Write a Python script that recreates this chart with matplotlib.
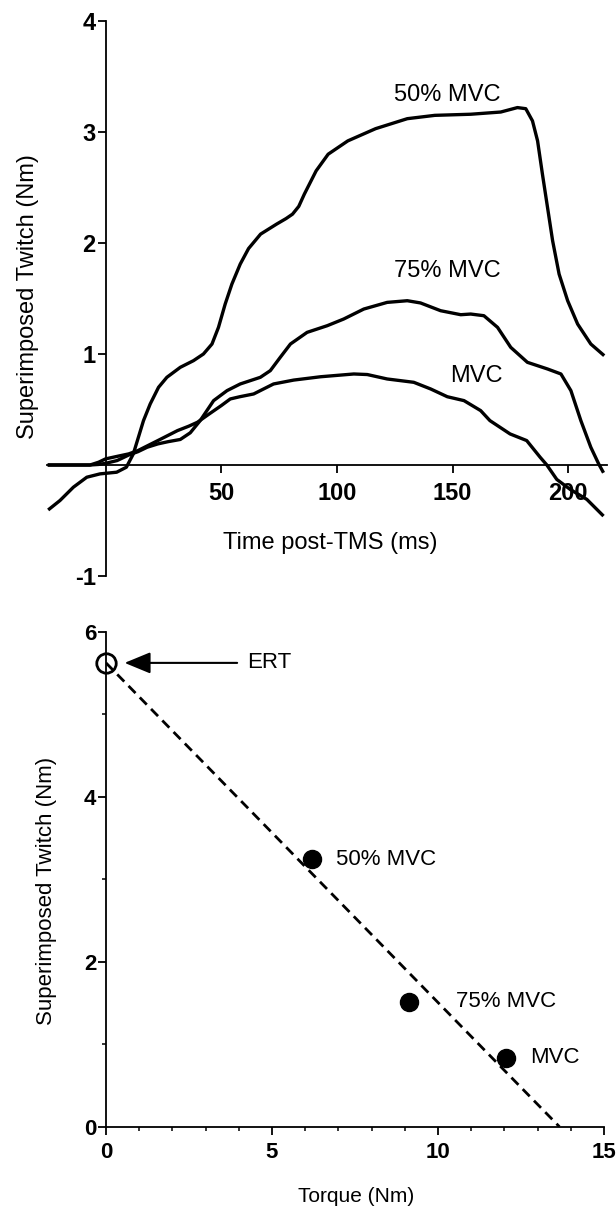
import numpy as np
import matplotlib.pyplot as plt
from matplotlib.ticker import MultipleLocator

plt.rcParams['font.family'] = ['Liberation Sans', 'DejaVu Sans']
plt.rcParams['axes.unicode_minus'] = False

# traccia superiore: twitch sovrapposto vs tempo dopo TMS
t_50 = [-24.8, -19.7, -13.9, -8.1, -2.4, 4.8, 9, 12.0, 14.2, 16.4, 19.3, 22.9, 26.5, 32.3,
        38.0, 42.3, 46.0, 48.8, 51.7, 54.6, 58.2, 61.8, 67, 73.9, 78, 80.8, 83.5, 85.9, 91,
        96.2, 104.7, 116.7, 130.4, 142.3, 157.8, 170.8, 178.0, 181.6, 184.5, 186.7, 188.8,
        191.0, 193.2, 196.0, 199.7, 204.0, 209.7, 215.5]
y_50 = [-0.405, -0.32, -0.2, -0.11, -0.08, -0.065, -0.02, 0.10, 0.25, 0.40, 0.55, 0.70, 0.79,
        0.88, 0.94, 1.0, 1.09, 1.24, 1.45, 1.63, 1.81, 1.95, 2.08, 2.17, 2.22, 2.26, 2.33, 2.44,
        2.65, 2.80, 2.92, 3.03, 3.12, 3.15, 3.16, 3.18, 3.22, 3.21, 3.10, 2.92, 2.62, 2.32,
        2.02, 1.72, 1.48, 1.27, 1.09, 0.985]

t_75 = [-25, -6.7, -3, 0, 5, 10, 14, 18, 22.6, 27, 32.3, 36.6, 40.9, 46.7, 52.5, 58.2, 66.9,
        71.2, 75.5, 79.9, 87.1, 95.8, 102.9, 111.6, 121.7, 130.4, 136.1, 144.8, 153.5, 157.8,
        163.5, 169.4, 175.1, 182.3, 191.0, 196.8, 201.1, 205.4, 209.7, 213.1, 215.2]
y_75 = [0, 0, 0.005, 0.015, 0.04, 0.09, 0.12, 0.16, 0.19, 0.21, 0.23, 0.29, 0.40, 0.58, 0.67,
        0.73, 0.79, 0.85, 0.97, 1.09, 1.195, 1.255, 1.315, 1.405, 1.465, 1.48, 1.46, 1.39,
        1.354, 1.36, 1.345, 1.24, 1.06, 0.925, 0.865, 0.82, 0.67, 0.40, 0.16, 0.01, -0.07]

t_mvc = [-25, -6.7, -3, 0, 5.5, 10, 14, 22.6, 31.1, 36, 39.7, 44.8, 50, 53.9, 58, 64.0, 72.6,
         81.3, 92.9, 107.3, 113.1, 121.7, 133.2, 140.5, 147.7, 154.9, 162.1, 166.1, 174.8,
         182, 187.8, 190.7, 195.0, 200.8, 208.0, 215.2]
y_mvc = [0, 0, 0.025, 0.055, 0.08, 0.1, 0.13, 0.22, 0.31, 0.35, 0.385, 0.46, 0.535, 0.595,
         0.615, 0.64, 0.73, 0.765, 0.795, 0.82, 0.815, 0.775, 0.745, 0.685, 0.615, 0.58, 0.49,
         0.40, 0.28, 0.22, 0.07, 0.0, -0.13, -0.22, -0.31, -0.46]

# pannello inferiore: twitch vs coppia
torque = [6.21, 9.13, 12.05]
twitch = [3.24, 1.515, 0.836]
point_labels = ['50% MVC', '75% MVC', 'MVC']

fig = plt.figure(figsize=(6.16, 12.11), dpi=100)

# --- pannello superiore ---
ax1 = fig.add_axes([47 / 616, 1 - 576 / 1211, 560 / 616, 555 / 1211])
for t, y in [(t_50, y_50), (t_75, y_75), (t_mvc, y_mvc)]:
    ax1.plot(t, y, color='black', lw=2.4, solid_joinstyle='round', solid_capstyle='butt')
ax1.set_xlim(-25.3, 216.7)
ax1.set_ylim(-1, 4)
ax1.spines['left'].set_position(('data', 0))
ax1.spines['bottom'].set_position(('data', 0))
ax1.spines['top'].set_visible(False)
ax1.spines['right'].set_visible(False)
for s in ['left', 'bottom']:
    ax1.spines[s].set_linewidth(1.3)
ax1.set_xticks([50, 100, 150, 200])
ax1.set_yticks([-1, 1, 2, 3, 4])
ax1.tick_params(width=1.3, length=6, labelsize=17)
ax1.tick_params(axis='x', pad=6)
ax1.tick_params(axis='y', pad=1)
for lab in ax1.get_xticklabels() + ax1.get_yticklabels():
    lab.set_fontweight('bold')

ax1.text(147.5, 3.33, '50% MVC', fontsize=17, ha='center', va='center')
ax1.text(147.5, 1.75, '75% MVC', fontsize=17, ha='center', va='center')
ax1.text(160.3, 0.80, 'MVC', fontsize=17, ha='center', va='center')

fig.text(28 / 616, 1 - 297 / 1211, 'Superimposed Twitch (Nm)', rotation=90,
         fontsize=17, ha='center', va='center')
fig.text(330 / 616, 1 - 543 / 1211, 'Time post-TMS (ms)', fontsize=17,
         ha='center', va='center')

# --- pannello inferiore ---
ax2 = fig.add_axes([106 / 616, 1 - 1126.7 / 1211, 498 / 616, 495 / 1211])
slope, ert = np.polyfit(torque, twitch, 1)
x_end = -ert / slope
ax2.plot([0, x_end], [ert, 0], color='black', lw=2, linestyle=(0, (3.6, 2.2)))
ax2.plot(torque, twitch, 'o', color='black', markersize=13)
ax2.plot([0], [ert], 'o', mfc='none', mec='black', mew=2, markersize=14, clip_on=False,
         zorder=5)

offsets = [17, 34, 17]
for x, y, lab, off in zip(torque, twitch, point_labels, offsets):
    ax2.annotate(lab, (x, y), xytext=(off, 0), textcoords='offset points',
                 fontsize=16, va='center', ha='left')

ax2.annotate('', xy=(0.56, ert), xytext=(3.95, ert),
             arrowprops=dict(arrowstyle='-|>,head_length=0.8,head_width=0.33',
                             mutation_scale=20, lw=1.5, color='black',
                             shrinkA=0, shrinkB=0))
ax2.text(4.25, ert, 'ERT', fontsize=16, va='center', ha='left')

ax2.set_xlim(0, 15)
ax2.set_ylim(0, 6)
ax2.spines['top'].set_visible(False)
ax2.spines['right'].set_visible(False)
for s in ['left', 'bottom']:
    ax2.spines[s].set_linewidth(1.3)
ax2.set_xticks([0, 5, 10, 15])
ax2.set_yticks([0, 2, 4, 6])
ax2.xaxis.set_minor_locator(MultipleLocator(1))
ax2.yaxis.set_minor_locator(MultipleLocator(1))
ax2.tick_params(which='major', width=1.3, length=6, labelsize=16)
ax2.tick_params(which='minor', width=1.1, length=3)
ax2.tick_params(axis='x', which='major', pad=5)
ax2.tick_params(axis='y', which='major', pad=1)
for lab in ax2.get_xticklabels() + ax2.get_yticklabels():
    lab.set_fontweight('bold')

fig.text(47 / 616, 1 - 891 / 1211, 'Superimposed Twitch (Nm)', rotation=90,
         fontsize=16, ha='center', va='center')
fig.text(356 / 616, 1 - 1196 / 1211, 'Torque (Nm)', fontsize=15,
         ha='center', va='center')

fig.savefig('out.png', dpi=100)
